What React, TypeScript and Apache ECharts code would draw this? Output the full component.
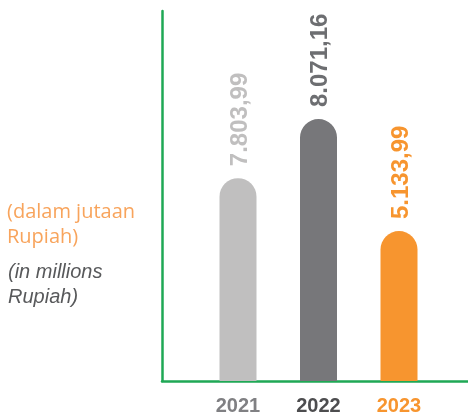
import React, { useEffect, useRef } from "react";
import * as echarts from "echarts";

// categories and values
const years = ["2021", "2022", "2023"];
const valueLabels = ["7.803,99", "8.071,16", "5.133,99"];
// bar heights as drawn in the reference (bars there are not drawn to scale)
const barHeights = [6250, 8071.16, 4620];
const yMax = 11400;
const barColors = ["#c0bfbf", "#77777a", "#f7952f"];
const valueLabelColors = ["#c0bfbf", "#6d6e71", "#f7952f"];
const yearLabelColors = ["#808083", "#4d4d4f", "#f7952f"];
const unitLinesId = ["(dalam jutaan", "Rupiah)"];
const unitLinesEn = ["(in millions", "Rupiah)"];

export default function App() {
  const ref = useRef<HTMLDivElement>(null);
  useEffect(() => {
    if (!ref.current) return;
    const chart = echarts.init(ref.current, null, { renderer: "svg" });
    const green = "#1fa855";
    chart.setOption({
      animation: false,
      grid: [
        { left: 197.75, width: 241.5, top: 11, bottom: 35 },
        { left: 162, right: 0, top: 11, bottom: 35 },
      ],
      xAxis: [
        {
          type: "category",
          gridIndex: 0,
          data: years,
          axisLine: { show: false },
          axisTick: { show: false },
          axisLabel: {
            margin: 14,
            fontSize: 20,
            fontWeight: "bold",
            fontFamily: "Liberation Sans",
            color: (_v: string, i: number) => yearLabelColors[i],
          },
        },
        {
          type: "category",
          gridIndex: 1,
          data: [""],
          axisLine: { show: true, lineStyle: { color: green, width: 2.5 } },
          axisTick: { show: false },
          axisLabel: { show: false },
        },
      ],
      yAxis: [
        { type: "value", gridIndex: 0, min: 0, max: yMax, show: false },
        {
          type: "value",
          gridIndex: 1,
          min: 0,
          max: yMax,
          axisLine: { show: true, lineStyle: { color: green, width: 2.5 } },
          axisTick: { show: false },
          axisLabel: { show: false },
          splitLine: { show: false },
        },
      ],
      series: [
        {
          type: "bar",
          xAxisIndex: 0,
          yAxisIndex: 0,
          barWidth: 37,
          data: barHeights.map((h, i) => ({
            value: h,
            itemStyle: { color: barColors[i], borderRadius: [18.5, 18.5, 0, 0] },
            label: {
              show: true,
              position: "top",
              rotate: 90,
              align: "left",
              verticalAlign: "middle",
              distance: 12,
              formatter: valueLabels[i],
              fontSize: 24,
              fontWeight: "bold",
              fontFamily: "Liberation Sans",
              color: valueLabelColors[i],
            },
          })),
        },
      ],
      graphic: [
        ...unitLinesId.map((t, i) => ({
          type: "text",
          left: 7,
          top: 200 + i * 25,
          style: {
            text: t,
            fill: "#f8a45c",
            font: "20px 'Open Sans'",
          },
        })),
        ...unitLinesEn.map((t, i) => ({
          type: "text",
          left: 8,
          top: 261 + i * 25,
          style: {
            text: t,
            fill: "#58595b",
            font: "italic 20px 'Liberation Sans'",
          },
        })),
      ],
    });
    return () => chart.dispose();
  }, []);
  return (
    <div
      ref={ref}
      style={{ position: "fixed", left: 0, top: 0, width: 468, height: 416 }}
    />
  );
}
